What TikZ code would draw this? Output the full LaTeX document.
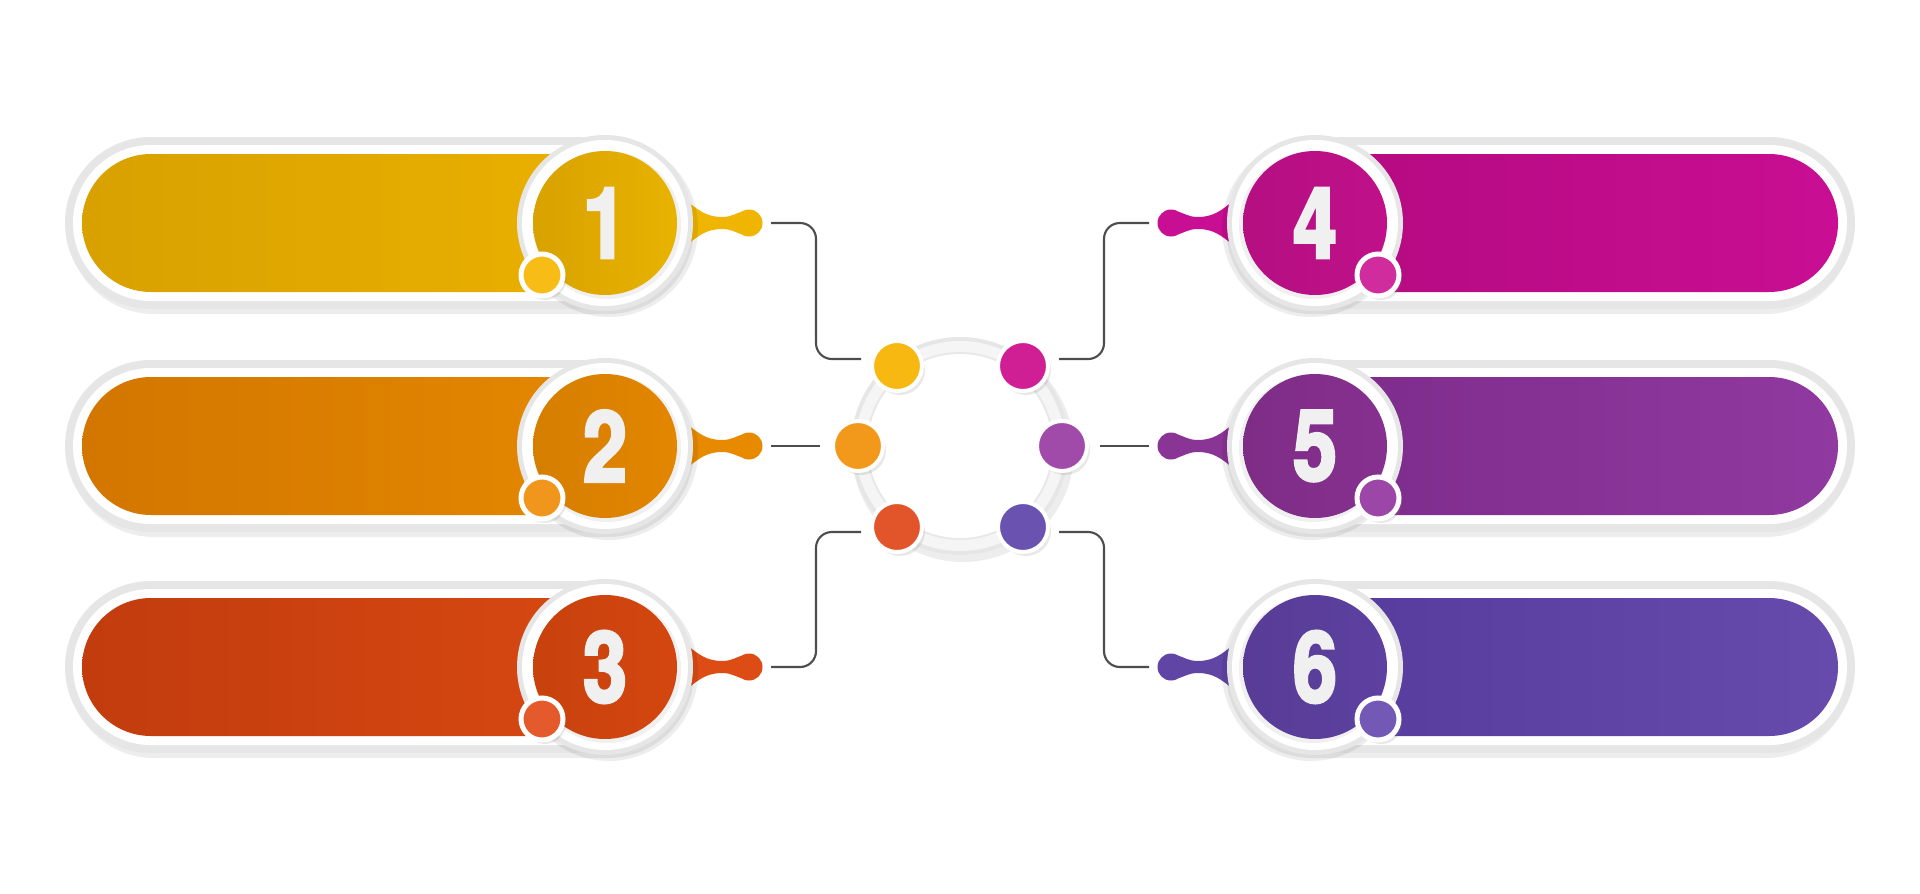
\documentclass[tikz,border=0pt]{standalone}
\usepackage{fontspec}
\newfontfamily\numfont{TeX Gyre Heros}[FakeStretch=0.8,FakeBold=3]
\usetikzlibrary{calc,shadows}
\definecolor{ringgray}{HTML}{E6E6E6}
\definecolor{linegray}{HTML}{4D4D4D}
\definecolor{numwhite}{HTML}{F0F0F0}
% row colours: Out (bar far end), In (bar near circle), Circ, Tail, Small, Dot
\definecolor{aOut}{HTML}{D8A100}\definecolor{aIn}{HTML}{EDB300}\definecolor{aCirc}{HTML}{E6AC00}\definecolor{aTail}{HTML}{F0B500}\definecolor{aSmall}{HTML}{F7BD16}\definecolor{aDot}{HTML}{F6B811}
\definecolor{bOut}{HTML}{D27600}\definecolor{bIn}{HTML}{E78A00}\definecolor{bCirc}{HTML}{E38600}\definecolor{bTail}{HTML}{E88A00}\definecolor{bSmall}{HTML}{F0961C}\definecolor{bDot}{HTML}{F2991C}
\definecolor{cOut}{HTML}{C23C0E}\definecolor{cIn}{HTML}{DA4A12}\definecolor{cCirc}{HTML}{D4460F}\definecolor{cTail}{HTML}{DC4C14}\definecolor{cSmall}{HTML}{E55A2C}\definecolor{cDot}{HTML}{E2552A}
\definecolor{dOut}{HTML}{C90E93}\definecolor{dIn}{HTML}{B10A7E}\definecolor{dCirc}{HTML}{C0108A}\definecolor{dTail}{HTML}{C80E92}\definecolor{dSmall}{HTML}{D02C9E}\definecolor{dDot}{HTML}{D01E94}
\definecolor{eOut}{HTML}{9039A0}\definecolor{eIn}{HTML}{7A2A88}\definecolor{eCirc}{HTML}{86308F}\definecolor{eTail}{HTML}{8A3496}\definecolor{eSmall}{HTML}{9C46A8}\definecolor{eDot}{HTML}{A04BA9}
\definecolor{fOut}{HTML}{664BAD}\definecolor{fIn}{HTML}{54389A}\definecolor{fCirc}{HTML}{5D40A0}\definecolor{fTail}{HTML}{6045A4}\definecolor{fSmall}{HTML}{7359B5}\definecolor{fDot}{HTML}{6A52B0}
\tikzset{
  shd/.style={fill=black,opacity=0.07},
  conn/.style={draw=linegray,line width=0.6pt,rounded corners=4.5pt},
  ballst/.style={circle,inner sep=0pt,minimum size=2.7mm},
  bignum/.style={circle,inner sep=0pt,minimum size=14.4mm,text=numwhite,
     font=\numfont\bfseries\fontsize{28}{28}\selectfont},
  smallc/.style={circle,inner sep=0pt,minimum size=4.2mm,draw=white,line width=0.5mm,
     drop shadow={shadow xshift=0.3mm,shadow yshift=-0.4mm,opacity=0.18}},
  cdot/.style={circle,inner sep=0pt,minimum size=5mm,draw=white,line width=0.4mm,
     drop shadow={shadow xshift=0.3mm,shadow yshift=-0.4mm,opacity=0.18}}
}
% one row (drawn in left-side coordinates; mirrored for the right side)
\newcommand\rowpart[5]{%
  \fill[shd,rounded corners=8.6mm] (68,#2-82) rectangle (694,#2+91);
  \fill[ringgray,rounded corners=8.6mm] (65,#2-86) rectangle (691,#2+86);
  \fill[white,rounded corners=7.8mm] (73,#2-78) rectangle (683,#2+78);
  \shade[left color=#3,right color=#4,rounded corners=6.9mm] (82,#2-69) rectangle (674,#2+69);
  \fill[#5] (672,#2-36) .. controls (695,#2-14) and (705,#2-6) .. (722,#2-6)
     .. controls (732,#2-6) and (736,#2-10) .. (744,#2-12) -- (744,#2+12)
     .. controls (736,#2+10) and (732,#2+6) .. (722,#2+6)
     .. controls (705,#2+6) and (695,#2+14) .. (672,#2+36) -- cycle;
  \fill[shd] (609,#2+5) circle (89);
  \fill[ringgray] (605,#2) circle (88);
  \fill[white] (605,#2) circle (83);
  \fill[black,opacity=0.06] (607,#2+2) circle (74);
  \coordinate (bc#1) at (749,#2);
  \coordinate (nc#1) at (605,#2);
  \coordinate (sc#1) at (542,#2+52);
  \coordinate (ls#1) at (771,#2);
}
\begin{document}
\begin{tikzpicture}[x=0.1mm,y=-0.1mm]
\useasboundingbox[fill=white] (0,0) rectangle (1920,894);
% left rows
\rowpart{1}{223}{aOut}{aIn}{aTail}
\rowpart{2}{446}{bOut}{bIn}{bTail}
\rowpart{3}{667}{cOut}{cIn}{cTail}
% right rows (mirrored)
\begin{scope}[shift={(1920,0)},xscale=-1]
\rowpart{4}{223}{dIn}{dOut}{dTail}
\rowpart{5}{446}{eIn}{eOut}{eTail}
\rowpart{6}{667}{fIn}{fOut}{fTail}
\end{scope}
% balls
\node[ballst,fill=aTail] (b1) at (bc1) {};
\node[ballst,fill=bTail] (b2) at (bc2) {};
\node[ballst,fill=cTail] (b3) at (bc3) {};
\node[ballst,fill=dTail] (b4) at (bc4) {};
\node[ballst,fill=eTail] (b5) at (bc5) {};
\node[ballst,fill=fTail] (b6) at (bc6) {};
% numbered circles
\node[bignum,left color=aCirc!94!black,right color=aCirc!92!yellow] (n1) at (nc1) {1};
\node[bignum,left color=bCirc!94!black,right color=bCirc] (n2) at (nc2) {2};
\node[bignum,left color=cCirc!94!black,right color=cCirc] (n3) at (nc3) {3};
\node[bignum,left color=dCirc!94!black,right color=dCirc] (n4) at (nc4) {4};
\node[bignum,left color=eCirc!94!black,right color=eCirc] (n5) at (nc5) {5};
\node[bignum,left color=fCirc!94!black,right color=fCirc] (n6) at (nc6) {6};
% small circles
\node[smallc,fill=aSmall] (m1) at (sc1) {};
\node[smallc,fill=bSmall] (m2) at (sc2) {};
\node[smallc,fill=cSmall] (m3) at (sc3) {};
\node[smallc,fill=dSmall] (m4) at (sc4) {};
\node[smallc,fill=eSmall] (m5) at (sc5) {};
\node[smallc,fill=fSmall] (m6) at (sc6) {};
% centre ring
\coordinate (hub) at (960,446);
\fill[shd] (963,451) circle (111);
\fill[ringgray] (hub) circle (109);
\fill[black!4] (hub) circle (105);
\fill[black!9] (hub) circle (94);
\fill[white] (hub) circle (92);
% centre dots
\node[cdot,fill=aDot] (d1) at (897,366) {};
\node[cdot,fill=bDot] (d2) at (858,446) {};
\node[cdot,fill=cDot] (d3) at (897,527) {};
\node[cdot,fill=dDot] (d4) at (1023,366) {};
\node[cdot,fill=eDot] (d5) at (1062,446) {};
\node[cdot,fill=fDot] (d6) at (1023,527) {};
% connector end points
\coordinate (le1) at (861,359);
\coordinate (le2) at (820,446);
\coordinate (le3) at (861,532);
\coordinate (le4) at (1059,359);
\coordinate (le5) at (1100,446);
\coordinate (le6) at (1059,532);
\draw[conn] (ls1) -| ($(ls1)!0.5!(le1)$) |- (le1);
\draw[conn] (ls2) -- (le2);
\draw[conn] (ls3) -| ($(ls3)!0.5!(le3)$) |- (le3);
\draw[conn] (ls4) -| ($(ls4)!0.5!(le4)$) |- (le4);
\draw[conn] (ls5) -- (le5);
\draw[conn] (ls6) -| ($(ls6)!0.5!(le6)$) |- (le6);
\end{tikzpicture}
\end{document}
